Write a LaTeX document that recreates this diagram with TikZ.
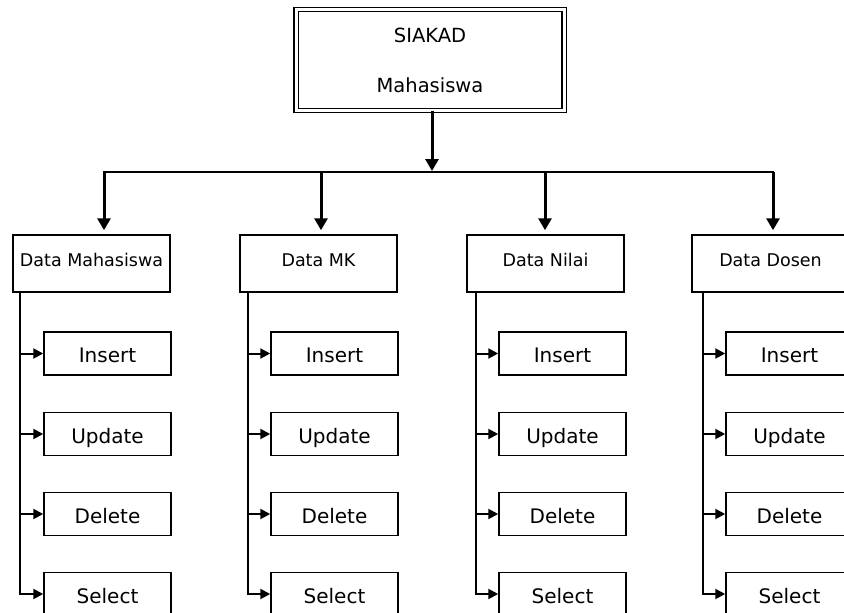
\documentclass[tikz,border=0pt]{standalone}
\usepackage{fontspec}
\setmainfont{DejaVu Sans}
\usetikzlibrary{arrows.meta}
\begin{document}
\begin{tikzpicture}[x=1pt,y=-1pt,
  topbox/.style={draw,double,line width=1.2pt,double distance=3pt,
    minimum width=268pt,minimum height=101pt,inner sep=0pt,align=center,
    font=\fontsize{19.5}{50}\selectfont},
  menubox/.style={draw,line width=1.5pt,minimum width=157pt,minimum height=57pt,
    inner sep=0pt,text height=13pt,text depth=7pt,font=\fontsize{17.5}{20}\selectfont},
  subbox/.style={draw,line width=1.5pt,minimum width=127pt,minimum height=43pt,
    inner sep=0pt,text height=18.6pt,text depth=0pt,font=\fontsize{20}{24}\selectfont},
  down/.style={line width=3pt,-{Triangle[length=12pt,width=13pt]}},
  side/.style={line width=2pt,-{Triangle[length=10pt,width=10pt]}}]
  \path[use as bounding box,fill=white] (0,0) rectangle (844,613);
  % root
  \node[topbox] (root) at (430,60) {SIAKAD\\Mahasiswa};
  \coordinate (hub) at (432,172);
  \draw[down,shorten >=1pt] (root.south -| hub) -- (hub);
  % menu columns
  \foreach \i/\lx/\ax/\vx/\sx/\txt in {1/13/104/20/44/Data Mahasiswa,
      2/240/321/248/271/Data MK, 3/467/545/476/499/Data Nilai,
      4/692/773/703/726/Data Dosen}{
    \node[menubox] (m\i) at (\lx+78.5,263.5) {\txt};
    \coordinate (j\i) at (\ax,172);
    \coordinate (v\i) at (\vx,300);
    \draw[down,shorten >=4pt] (j\i) -- (m\i.north -| j\i);
    % operations
    \foreach \j/\y/\op in {1/353.5/Insert,2/434/Update,3/514/Delete,4/594/Select}{
      \node[subbox] (s\i\j) at (\sx+63.5,\y) {\op};
      \draw[side] (m\i.south -| v\i) |- (s\i\j.west);
    }
  }
  \draw[line width=2pt,line cap=rect] (j1) -- (j4);
\end{tikzpicture}
\end{document}
